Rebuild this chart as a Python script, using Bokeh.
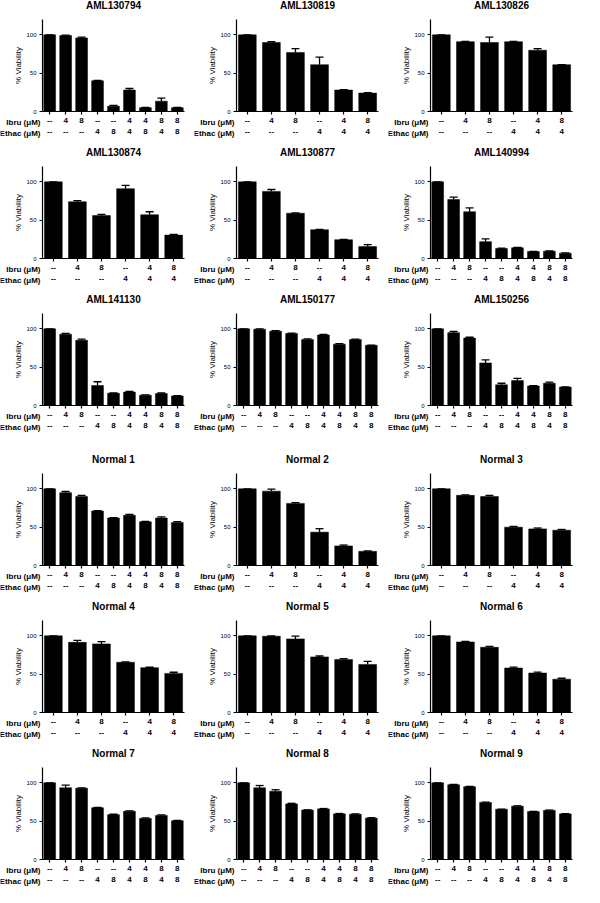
import math
from bokeh.plotting import figure
from bokeh.models import (ColumnDataSource, Whisker, TeeHead, LinearAxis,
                          Range1d, FixedTicker)
from bokeh.core.properties import value
from bokeh.layouts import column, row
from bokeh.embed import file_html
from bokeh.resources import INLINE

FONT = "Liberation Sans"

# ---- data ----
titles = ["AML130794", "AML130819", "AML130826",
          "AML130874", "AML130877", "AML140994",
          "AML141130", "AML150177", "AML150256",
          "Normal 1", "Normal 2", "Normal 3",
          "Normal 4", "Normal 5", "Normal 6",
          "Normal 7", "Normal 8", "Normal 9"]

ibru9 = ["--", "4", "8", "--", "--", "4", "4", "8", "8"]
ethac9 = ["--", "--", "--", "4", "8", "4", "8", "4", "8"]
ibru6 = ["--", "4", "8", "--", "4", "8"]
ethac6 = ["--", "--", "--", "4", "4", "4"]
row_names = ["Ibru (μM)", "Ethac (μM)"]
y_ticks = [0, 50, 100]

aml130794 = [100, 99, 96, 40, 7, 28, 5, 13.5, 5]
aml130794_err = [0, 0.5, 1, 0.5, 0.8, 2, 0.5, 4, 0.5]
aml130819 = [100, 90, 77, 61, 28, 24]
aml130819_err = [0, 1, 5, 10, 0.5, 0.5]
aml130826 = [100, 91, 90, 91, 80, 61]
aml130826_err = [0, 0.5, 7, 0.5, 2, 0]
aml130874 = [100, 74, 56, 91, 57, 30.5]
aml130874_err = [0, 1.5, 1.5, 4.5, 4, 1]
aml130877 = [100, 87.5, 59, 37.5, 24.5, 15.5]
aml130877_err = [0, 2.5, 0.5, 0.5, 0.3, 2.5]
aml140994 = [100, 77, 61, 22, 13, 14, 9, 9.5, 7]
aml140994_err = [0, 3, 5, 3.5, 0.5, 0.5, 0.3, 0.3, 0.3]
aml141130 = [100, 93, 85, 26, 16, 17.5, 13.5, 15.5, 12.5]
aml141130_err = [0, 1, 1.5, 5, 0.3, 1, 0.3, 0.8, 0.3]
aml150177 = [100, 99.5, 97, 94, 86, 92, 80, 86, 78.5]
aml150177_err = [0, 0.5, 0.5, 0.5, 1, 0.8, 0.8, 0.5, 0.3]
aml150256 = [100, 95, 88, 55.5, 27, 32.5, 25.5, 29, 24]
aml150256_err = [0, 1.5, 1, 4, 2, 3, 0.3, 1.5, 0.3]
normal1 = [100, 95, 90, 71, 62, 65.5, 57, 62, 56]
normal1_err = [0, 1.5, 1.5, 0.5, 0.5, 1, 0.5, 1.3, 1.3]
normal2 = [100, 97, 81, 43.5, 25.5, 18.5]
normal2_err = [0, 2.5, 1, 4.5, 1.2, 0.5]
normal3 = [100, 91.5, 90, 50, 47.7, 46]
normal3_err = [0, 0.5, 1.5, 1, 1.2, 1]
normal4 = [100, 91.5, 89.5, 65.5, 58.5, 51]
normal4_err = [0, 2.5, 3, 0.5, 0.5, 1.5]
normal5 = [100, 99.5, 96, 72.5, 69, 62.7]
normal5_err = [0, 0.3, 3.5, 1.2, 1.2, 4]
normal6 = [100, 92, 85, 58, 51.5, 43.5]
normal6_err = [0, 0.8, 1.3, 1.3, 1.2, 1.2]
normal7 = [100, 93.5, 93, 67.5, 58.5, 63, 53.5, 57.5, 50.5]
normal7_err = [0, 3.4, 0.5, 0.5, 0.5, 0.5, 0.7, 0.7, 0.5]
normal8 = [100, 93.5, 89, 72.5, 64.5, 66, 59.5, 59, 54]
normal8_err = [0, 3, 2, 0.8, 0.3, 0.5, 0.5, 0.5, 0.5]
normal9 = [100, 97.5, 95, 74.5, 65.5, 69.5, 62.5, 64, 59.5]
normal9_err = [0, 0.5, 0.3, 0.3, 0.3, 0.5, 0.3, 0.5, 0.3]

values = [aml130794, aml130819, aml130826, aml130874, aml130877, aml140994,
          aml141130, aml150177, aml150256, normal1, normal2, normal3,
          normal4, normal5, normal6, normal7, normal8, normal9]
errors = [aml130794_err, aml130819_err, aml130826_err, aml130874_err,
          aml130877_err, aml140994_err, aml141130_err, aml150177_err,
          aml150256_err, normal1_err, normal2_err, normal3_err, normal4_err,
          normal5_err, normal6_err, normal7_err, normal8_err, normal9_err]

# ---- layout constants (pixels) ----
W = 194
LEFT, RIGHT = 42, 10
FRAME_H = 92
Y_MAX = 120


def make_panel(title, vals, errs, top, bottom):
    n = len(vals)
    ibru = ibru9 if n == 9 else ibru6
    ethac = ethac9 if n == 9 else ethac6
    xs = list(range(1, n + 1))
    H = top + FRAME_H + bottom
    x0, x1 = 0.55, n + 0.45
    ppx = (W - LEFT - RIGHT) / (x1 - x0)
    ppy = FRAME_H / Y_MAX

    src = ColumnDataSource(dict(
        x=xs, v=vals, hi=[v + e for v, e in zip(vals, errs)]))

    p = figure(width=W, height=H, title=None,
               output_backend="svg", toolbar_location=None,
               x_range=Range1d(x0 - LEFT / ppx, x1 + RIGHT / ppx),
               y_range=Range1d(-bottom / ppy, Y_MAX + top / ppy),
               min_border=0)
    p.outline_line_color = None
    p.xgrid.visible = False
    p.ygrid.visible = False
    p.background_fill_color = "white"

    p.vbar(x="x", top="v", bottom=0, width=0.74, source=src,
           fill_color="black", line_color="black", line_width=0.5)

    wk = Whisker(base="x", lower="v", upper="hi", source=src,
                 line_color="black", line_width=1.3,
                 upper_head=TeeHead(size=8, line_color="black", line_width=1.3),
                 lower_head=None)
    p.add_layout(wk)

    # y axis at the left edge of the bars
    ya = p.yaxis[0]
    ya.fixed_location = x0
    ya.bounds = (0, Y_MAX)
    ya.ticker = FixedTicker(ticks=y_ticks)
    ya.minor_tick_line_color = None
    ya.major_tick_out = 3
    ya.major_tick_in = 0
    ya.axis_line_width = 1.2
    ya.major_tick_line_width = 1.2
    ya.major_label_text_font = FONT
    ya.major_label_text_font_size = "6px"
    ya.major_label_text_color = "black"
    ya.major_label_standoff = 3

    # x axis at zero; its labels are the Ibru row
    xa = p.xaxis[0]
    xa.fixed_location = 0
    xa.bounds = (x0, x1)
    xa.ticker = FixedTicker(ticks=xs)
    xa.major_label_overrides = {x: lab for x, lab in zip(xs, ibru)}
    xa.minor_tick_line_color = None
    xa.major_tick_out = 3
    xa.major_tick_in = 0
    xa.axis_line_width = 1.2
    xa.major_tick_line_width = 1.2
    xa.major_label_text_font = FONT
    xa.major_label_text_font_size = "8px"
    xa.major_label_text_font_style = "bold"
    xa.major_label_text_color = "black"
    xa.major_label_standoff = 3

    # second axis carrying the Ethac row
    xa2 = LinearAxis(fixed_location=-11 / ppy, bounds=(x0, x1),
                     ticker=FixedTicker(ticks=xs),
                     major_label_overrides={x: lab for x, lab in zip(xs, ethac)},
                     axis_line_color=None, major_tick_line_color=None,
                     minor_tick_line_color=None, major_tick_out=0,
                     major_tick_in=0, major_label_standoff=6,
                     major_label_text_font=FONT,
                     major_label_text_font_size="8px",
                     major_label_text_font_style="bold",
                     major_label_text_color="black")
    p.add_layout(xa2, "below")

    common = dict(text_font=value(FONT), text_color="black",
                  text_baseline="middle")
    # row names
    p.text(x=[x0 - 2 / ppx] * 2, y=[-11 / ppy, -22 / ppy], text=row_names,
           text_align="right", text_font_size="8px",
           text_font_style="bold", **common)
    # y axis title
    p.text(x=[x0 - 24 / ppx], y=[Y_MAX / 2], text=["% Viability"],
           angle=math.pi / 2, text_align="center", text_font_size="8px",
           **common)
    # panel title
    p.text(x=[(x0 + x1) / 2], y=[Y_MAX + 14 / ppy], text=[title],
           text_align="center", text_font_size="10px",
           text_font_style="bold", **common)
    return p


rows = []
for r in range(6):
    top = 32 if r == 3 else 19
    bottom = 27 if r == 5 else 36
    figs = [make_panel(titles[3 * r + c], values[3 * r + c], errors[3 * r + c],
                       top, bottom)
            for c in range(3)]
    rows.append(row(*figs))

layout = column(*rows)

open("out.html", "w").write(file_html(layout, INLINE))
